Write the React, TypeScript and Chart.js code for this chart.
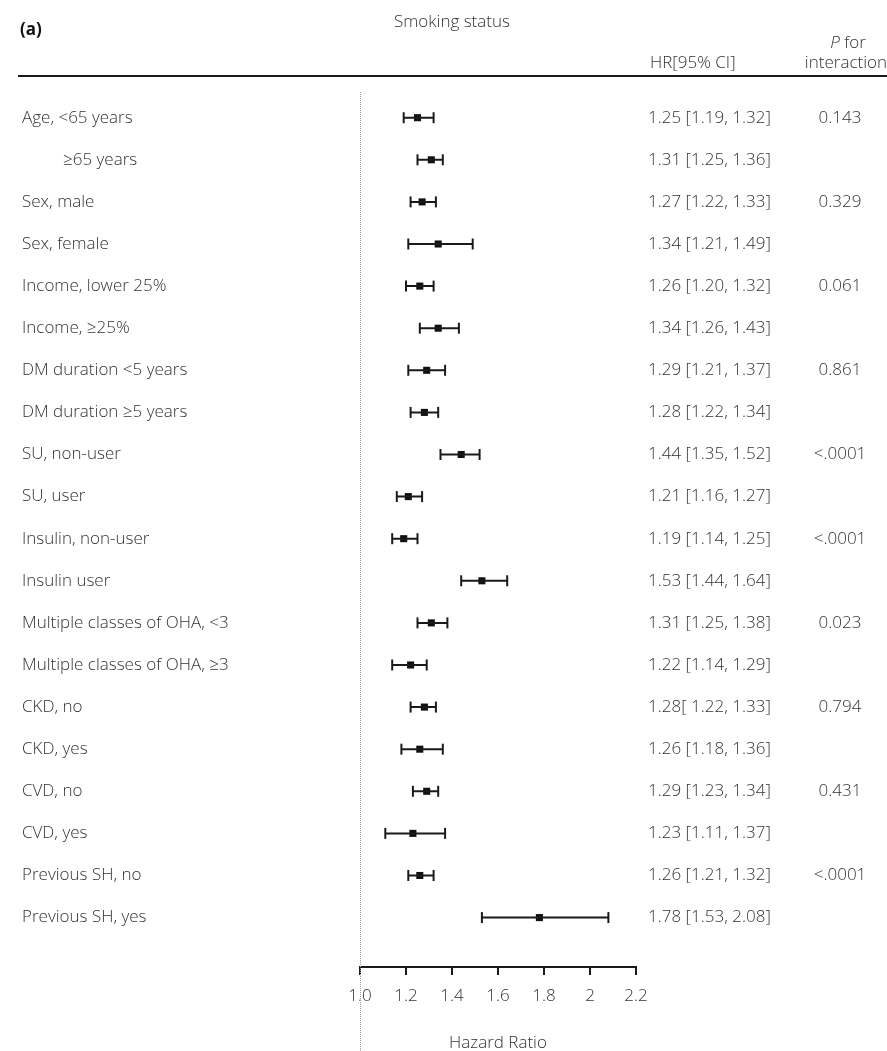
import React, { useEffect, useRef } from "react";
import { Chart, registerables } from "chart.js";

Chart.register(...registerables);

const subgroupLabels = [
  "Age, <65 years",
  "≥65 years",
  "Sex, male",
  "Sex, female",
  "Income, lower 25%",
  "Income, ≥25%",
  "DM duration <5 years",
  "DM duration ≥5 years",
  "SU, non-user",
  "SU, user",
  "Insulin, non-user",
  "Insulin user",
  "Multiple classes of OHA, <3",
  "Multiple classes of OHA, ≥3",
  "CKD, no",
  "CKD, yes",
  "CVD, no",
  "CVD, yes",
  "Previous SH, no",
  "Previous SH, yes",
];

const hazardRatios = [1.25, 1.31, 1.27, 1.34, 1.26, 1.34, 1.29, 1.28, 1.44, 1.21, 1.19, 1.53, 1.31, 1.22, 1.28, 1.26, 1.29, 1.23, 1.26, 1.78];
const ciLower = [1.19, 1.25, 1.22, 1.21, 1.2, 1.26, 1.21, 1.22, 1.35, 1.16, 1.14, 1.44, 1.25, 1.14, 1.22, 1.18, 1.23, 1.11, 1.21, 1.53];
const ciUpper = [1.32, 1.36, 1.33, 1.49, 1.32, 1.43, 1.37, 1.34, 1.52, 1.27, 1.25, 1.64, 1.38, 1.29, 1.33, 1.36, 1.34, 1.37, 1.32, 2.08];

const hrTexts = [
  "1.25 [1.19, 1.32]",
  "1.31 [1.25, 1.36]",
  "1.27 [1.22, 1.33]",
  "1.34 [1.21, 1.49]",
  "1.26 [1.20, 1.32]",
  "1.34 [1.26, 1.43]",
  "1.29 [1.21, 1.37]",
  "1.28 [1.22, 1.34]",
  "1.44 [1.35, 1.52]",
  "1.21 [1.16, 1.27]",
  "1.19 [1.14, 1.25]",
  "1.53 [1.44, 1.64]",
  "1.31 [1.25, 1.38]",
  "1.22 [1.14, 1.29]",
  "1.28[ 1.22, 1.33]",
  "1.26 [1.18, 1.36]",
  "1.29 [1.23, 1.34]",
  "1.23 [1.11, 1.37]",
  "1.26 [1.21, 1.32]",
  "1.78 [1.53, 2.08]",
];

const pInteraction = ["0.143", "", "0.329", "", "0.061", "", "0.861", "", "<.0001", "", "<.0001", "", "0.023", "", "0.794", "", "0.431", "", "<.0001", ""];

const xTickValues = [1.0, 1.2, 1.4, 1.6, 1.8, 2.0, 2.2];
const xTickLabels = ["1.0", "1.2", "1.4", "1.6", "1.8", "2", "2.2"];

const indentedLabels = new Set(["≥65 years"]);

const FONT = "'Open Sans', 'Noto Sans', sans-serif";
const W = "300";
const SIZE = 17;
const TEXT = "#333333";
const INK = "#1a1a1a";

export default function App() {
  const canvasRef = useRef<HTMLCanvasElement | null>(null);

  useEffect(() => {
    const canvas = canvasRef.current;
    if (!canvas) return;

    const n = subgroupLabels.length;
    const ciData: { x: number | null; y: number | null }[] = [];
    for (let i = 0; i < n; i++) {
      ciData.push({ x: ciLower[i], y: i });
      ciData.push({ x: ciUpper[i], y: i });
      ciData.push({ x: null, y: null });
    }
    const hrData = hazardRatios.map((v, i) => ({ x: v, y: i }));

    const textPlugin = {
      id: "forestText",
      afterDraw(chart: any) {
        const ctx = chart.ctx as CanvasRenderingContext2D;
        const xs = chart.scales.x;
        const ys = chart.scales.y;
        const f = `${W} ${SIZE}px ${FONT}`;
        ctx.save();
        ctx.fillStyle = TEXT;
        ctx.textBaseline = "middle";

        // row texts
        ctx.font = f;
        for (let i = 0; i < n; i++) {
          const y = ys.getPixelForValue(i);
          ctx.textAlign = "left";
          const lbl = subgroupLabels[i];
          ctx.fillText(lbl, indentedLabels.has(lbl) ? 63 : 22, y);
          ctx.fillText(hrTexts[i], 648, y);
          if (pInteraction[i]) {
            ctx.textAlign = "center";
            ctx.fillText(pInteraction[i], 840, y);
          }
        }

        // header
        ctx.textAlign = "left";
        ctx.font = `bold ${SIZE}px ${FONT}`;
        ctx.fillStyle = "#111";
        ctx.fillText("(a)", 20, 30);
        ctx.fillStyle = TEXT;
        ctx.font = f;
        ctx.textAlign = "center";
        ctx.fillText("Smoking status", 452, 22);
        ctx.textAlign = "left";
        ctx.fillText("HR[95% CI]", 650, 63);
        ctx.textAlign = "right";
        ctx.fillText("interaction", 887, 63);
        // "P for" with italic P
        ctx.font = `italic ${W} ${SIZE}px ${FONT}`;
        const pW = ctx.measureText("P").width;
        ctx.font = f;
        const forW = ctx.measureText(" for").width;
        const startX = 848 - (pW + forW) / 2;
        ctx.textAlign = "left";
        ctx.font = `italic ${W} ${SIZE}px ${FONT}`;
        ctx.fillText("P", startX, 43);
        ctx.font = f;
        ctx.fillText(" for", startX + pW, 43);

        // header rule
        ctx.strokeStyle = INK;
        ctx.lineWidth = 2;
        ctx.beginPath();
        ctx.moveTo(18, 76);
        ctx.lineTo(887, 76);
        ctx.stroke();

        // axis title
        ctx.fillStyle = TEXT;
        ctx.textAlign = "center";
        ctx.font = f;
        ctx.fillText("Hazard Ratio", (xs.left + xs.right) / 2, 1043);

        // dotted reference line at HR = 1
        const x1 = Math.round(xs.getPixelForValue(1.0)) + 0.5;
        ctx.strokeStyle = "#9a9a9a";
        ctx.lineWidth = 1;
        ctx.setLineDash([1, 1]);
        ctx.beginPath();
        ctx.moveTo(x1, 92);
        ctx.lineTo(x1, 1051);
        ctx.stroke();
        ctx.restore();
      },
    };

    const chart = new Chart(canvas, {
      type: "scatter",
      data: {
        datasets: [
          {
            type: "line",
            data: ciData as any,
            showLine: true,
            spanGaps: false,
            borderColor: INK,
            borderWidth: 2,
            pointStyle: "line",
            rotation: 90,
            pointRadius: 5.5,
            pointBorderWidth: 2,
            pointBorderColor: INK,
            pointBackgroundColor: INK,
            pointHoverRadius: 5.5,
          } as any,
          {
            type: "scatter",
            data: hrData,
            pointStyle: "rect",
            pointRadius: 5,
            pointBorderWidth: 0,
            pointBackgroundColor: "#111",
            pointBorderColor: "#111",
          } as any,
        ],
      },
      options: {
        responsive: false,
        animation: false,
        events: [],
        layout: { padding: { left: 360, right: 251, top: 90, bottom: 33.6 } },
        plugins: { legend: { display: false }, tooltip: { enabled: false } },
        scales: {
          x: {
            type: "linear",
            min: 1.0,
            max: 2.2,
            afterBuildTicks: (scale: any) => {
              scale.ticks = xTickValues.map((v) => ({ value: v }));
            },
            ticks: {
              autoSkip: false,
              maxRotation: 0,
              padding: 11,
              color: TEXT,
              font: { family: FONT, size: SIZE, weight: W as any },
              callback: (_v: any, i: number) => xTickLabels[i],
            },
            border: { display: true, color: INK, width: 2 },
            grid: {
              display: true,
              drawOnChartArea: false,
              drawTicks: true,
              tickLength: 8,
              color: INK,
              lineWidth: 2,
            },
          },
          y: {
            type: "linear",
            display: false,
            reverse: true,
            min: -0.658,
            max: 20.174,
          },
        },
      },
      plugins: [textPlugin],
    });

    return () => chart.destroy();
  }, []);

  return (
    <div style={{ position: "absolute", left: 0, top: 0, width: 887, height: 1051, background: "#fff" }}>
      <canvas ref={canvasRef} width={887} height={1051} style={{ display: "block" }} />
    </div>
  );
}
